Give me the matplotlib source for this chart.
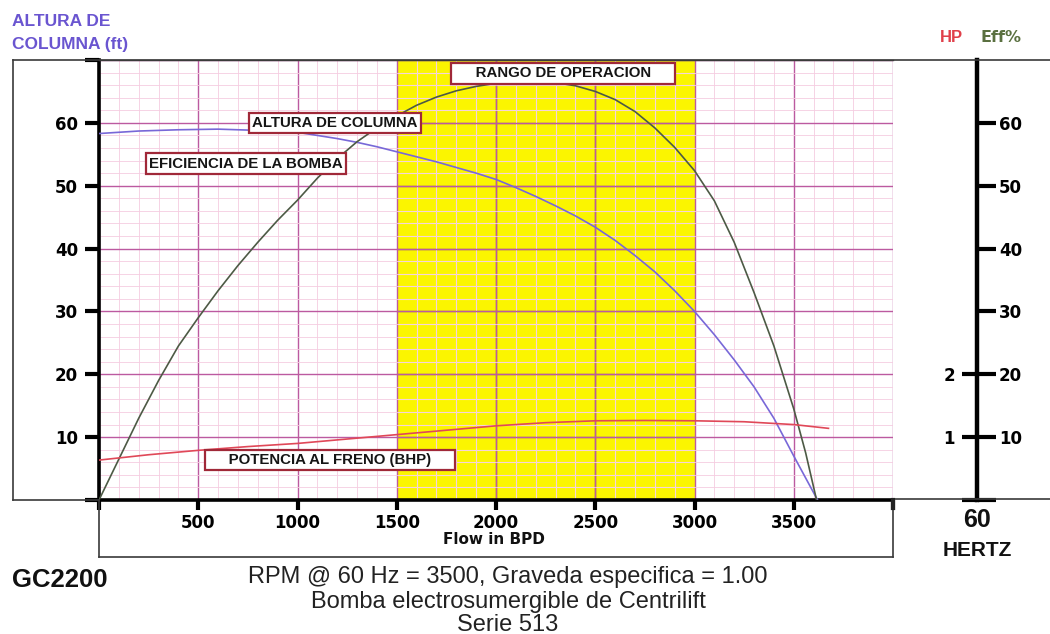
import matplotlib
matplotlib.use("Agg")
import matplotlib.pyplot as plt
from matplotlib.lines import Line2D
from matplotlib.ticker import MultipleLocator

# ---------------- data ----------------
flow_head = [0, 200, 400, 600, 800, 1000, 1100, 1200, 1300, 1400, 1500, 1600, 1700, 1800, 1900,
             2000, 2100, 2200, 2300, 2400, 2500, 2600, 2700, 2800, 2900, 3000, 3100, 3200,
             3300, 3400, 3500, 3560, 3620]
head_ft = [58.3, 58.7, 58.9, 59.0, 58.8, 58.5, 58.0, 57.5, 56.9, 56.2, 55.4, 54.6, 53.8, 52.9, 52.0,
           51.0, 49.7, 48.3, 46.8, 45.2, 43.4, 41.3, 38.9, 36.3, 33.3, 30.0, 26.3, 22.3,
           18.0, 13.0, 7.0, 3.5, 0.0]

flow_eff = [0, 100, 200, 300, 400, 500, 600, 700, 800, 900, 1000, 1100, 1200, 1300, 1400, 1500,
            1600, 1700, 1800, 1900, 2000, 2100, 2200, 2300, 2400, 2500, 2600, 2700, 2800, 2900,
            3000, 3100, 3200, 3300, 3400, 3500, 3560, 3615]
eff_pct = [0, 6.5, 13, 19, 24.5, 29, 33.3, 37.3, 41, 44.5, 47.7, 51.2, 54.3, 57.0, 59.2, 61.1,
           62.8, 64.1, 65.1, 65.8, 66.3, 66.6, 66.7, 66.4, 65.9, 65.0, 63.7, 61.8, 59.2, 56.1,
           52.4, 47.6, 41.0, 33.0, 24.5, 14.5, 7.5, 0]

flow_bhp = [0, 250, 500, 750, 1000, 1250, 1500, 1750, 2000, 2250, 2500, 2750, 3000, 3250, 3500, 3675]
bhp_hp = [0.635, 0.72, 0.79, 0.85, 0.90, 0.97, 1.04, 1.11, 1.18, 1.23, 1.26, 1.265, 1.26, 1.245, 1.20, 1.14]

op_range = [1500, 3000]

x_ticks = [0, 500, 1000, 1500, 2000, 2500, 3000, 3500, 4000]
x_labels = ['', '500', '1000', '1500', '2000', '2500', '3000', '3500', '']
y_ticks = [0, 10, 20, 30, 40, 50, 60, 70]
y_labels = ['', '10', '20', '30', '40', '50', '60', '']
eff_ticks = [0, 10, 20, 30, 40, 50, 60]
eff_labels = ['', '10', '20', '30', '40', '50', '60']
hp_ticks = [0, 1, 2]
hp_labels = ['', '1', '2']

# ---------------- figure ----------------
W, H = 1050, 634
fig = plt.figure(figsize=(W / 100, H / 100), dpi=100)

def fx(px):
    return px / W

def fy(py):
    return 1 - py / H

L, R, B, T = fx(99), fx(893), fy(500), fy(60)
ax = fig.add_axes([L, B, R - L, T - B])
ax.set_xlim(0, 4000)
ax.set_ylim(0, 70)

# grid
ax.xaxis.set_minor_locator(MultipleLocator(100))
ax.yaxis.set_minor_locator(MultipleLocator(2))
ax.set_xticks(x_ticks)
ax.set_xticklabels(x_labels)
ax.set_yticks(y_ticks)
ax.set_yticklabels(y_labels)
ax.grid(which='minor', color='#f5cce0', lw=0.6, zorder=0.3)
ax.grid(which='major', color='#bc5aa0', lw=1.0, zorder=0.4)
ax.set_axisbelow(True)
ax.tick_params(which='minor', length=0)

# operating range
ax.axvspan(op_range[0], op_range[1], color='#fbf500', zorder=0.35, lw=0)
for xv in range(op_range[0] + 100, op_range[1], 100):
    if xv % 500:
        ax.plot([xv, xv], [0, 70], color='#fdfbc0', lw=0.8, zorder=0.38)
for yv in range(2, 70, 2):
    if yv % 10:
        ax.plot(op_range, [yv, yv], color='#fdfbc0', lw=0.8, zorder=0.38)
for xv in x_ticks:
    if op_range[0] < xv < op_range[1]:
        ax.plot([xv, xv], [0, 70], color='#8a7a3a', lw=1.0, zorder=0.45)
for yv in y_ticks[1:-1]:
    ax.plot(op_range, [yv, yv], color='#9a7a50', lw=1.0, zorder=0.45)

# spines / ticks
ax.spines['right'].set_visible(False)
ax.spines['top'].set_color('#444444')
ax.spines['top'].set_linewidth(1.0)
ax.spines['left'].set_linewidth(2.6)
ax.spines['bottom'].set_linewidth(2.6)
ax.tick_params(axis='y', which='major', length=10, width=3, pad=5, direction='out')
ax.tick_params(axis='x', which='major', length=7, width=3, pad=3, direction='out')
for lab in ax.get_xticklabels() + ax.get_yticklabels():
    lab.set_fontfamily('DejaVu Sans')
    lab.set_fontweight('bold')
    lab.set_fontsize(12)

# curves
ax.plot(flow_head, head_ft, color='#7868d8', lw=1.2, zorder=3)
ax.plot(flow_eff, eff_pct, color='#4d5a45', lw=1.2, zorder=3)
ax_bhp = ax.twinx()
ax_bhp.set_ylim(0, 7)
ax_bhp.axis('off')
ax_bhp.plot(flow_bhp, bhp_hp, color='#e04858', lw=1.2, zorder=3)

# annotation boxes
box = dict(boxstyle='square,pad=0.22', fc='white', ec='#a02838', lw=1.6)
fp = dict(family='Liberation Sans', weight='bold', fontsize=10.8, color='#151515',
          ha='center', va='center', zorder=5)
ax_bhp.text(2337, 6.79, '     RANGO DE OPERACION     ', bbox=box, **fp)
ax_bhp.text(1189, 6.0, 'ALTURA DE COLUMNA', bbox=box, **fp)
ax_bhp.text(741, 5.35, 'EFICIENCIA DE LA BOMBA', bbox=box, **fp)
ax_bhp.text(1164, 0.635, '     POTENCIA AL FRENO (BHP)     ', bbox=box, **fp)

# right axis (Eff% and HP)
xr = fx(977)
ax_eff = fig.add_axes([xr, B, 1 / W, T - B])
ax_eff.set_ylim(0, 70)
ax_eff.patch.set_visible(False)
ax_eff.set_xticks([])
ax_hp = ax_eff.twinx()
ax_hp.set_ylim(0, 7)
ax_hp.patch.set_visible(False)

for s in ['top', 'bottom', 'right']:
    ax_eff.spines[s].set_visible(False)
ax_eff.spines['left'].set_linewidth(3.2)
ax_eff.yaxis.tick_right()
ax_eff.set_yticks(eff_ticks)
ax_eff.set_yticklabels(eff_labels)
ax_eff.tick_params(axis='y', length=13, width=3, pad=2, labelsize=12)

for s in ['top', 'bottom', 'right', 'left']:
    ax_hp.spines[s].set_visible(False)
ax_hp.yaxis.tick_left()
ax_hp.set_yticks(hp_ticks)
ax_hp.set_yticklabels(hp_labels)
ax_hp.tick_params(axis='y', length=11, width=3, pad=5, labelsize=12)

for a in (ax_eff, ax_hp):
    for t in a.yaxis.get_major_ticks():
        for lab in (t.label1, t.label2):
            lab.set_fontfamily('DejaVu Sans')
            lab.set_fontweight('bold')

# frame lines
def fline(x0, y0, x1, y1, lw=1.2, c='#3a3a3a'):
    fig.add_artist(Line2D([fx(x0), fx(x1)], [fy(y0), fy(y1)], transform=fig.transFigure,
                          color=c, lw=lw))

fline(13, 60, 1050, 60)
fline(13, 60, 13, 500)
fline(13, 500, 99, 500)
fline(99, 500, 99, 557)
fline(893, 500, 893, 557)
fline(99, 557, 893, 557)
fline(893, 499, 1050, 499)
fline(893, 500, 893, 508, lw=3, c='#222222')

# texts
fig.text(fx(12), fy(22), 'ALTURA DE', color='#6a55d0', fontsize=12.5,
         family='Liberation Sans', weight='bold', ha='left', va='center')
fig.text(fx(12), fy(44), 'COLUMNA (ft)', color='#6a55d0', fontsize=12.5,
         family='Liberation Sans', weight='bold', ha='left', va='center')
fig.text(fx(940), fy(38), 'HP', color='#e0404a', fontsize=12,
         family='Liberation Sans', weight='bold', ha='left', va='center')
fig.text(fx(980), fy(38), 'Eff%', color='#5a7040', fontsize=11.5,
         family='DejaVu Sans', weight='bold', ha='left', va='center')
fig.text(fx(494), fy(539), 'Flow in BPD', color='#111111', fontsize=11,
         family='DejaVu Sans', weight='bold', ha='center', va='center')
fig.text(fx(977), fy(520), '60', color='#111111', fontsize=18,
         family='Liberation Sans', weight='bold', ha='center', va='center')
fig.text(fx(977), fy(550), 'HERTZ', color='#111111', fontsize=15,
         family='Liberation Sans', weight='bold', ha='center', va='center')
fig.text(fx(12), fy(580), 'GC2200', color='#111111', fontsize=18.5,
         family='Liberation Sans', weight='bold', ha='left', va='center')
fig.text(fx(508), fy(577), 'RPM @ 60 Hz = 3500, Graveda especifica = 1.00', color='#222222',
         fontsize=17, family='Liberation Sans', ha='center', va='center')
fig.text(fx(508), fy(602), 'Bomba electrosumergible de Centrilift', color='#222222',
         fontsize=17, family='Liberation Sans', ha='center', va='center')
fig.text(fx(508), fy(625), 'Serie 513', color='#222222',
         fontsize=17, family='Liberation Sans', ha='center', va='center')

fig.savefig('out.png', dpi=100)
